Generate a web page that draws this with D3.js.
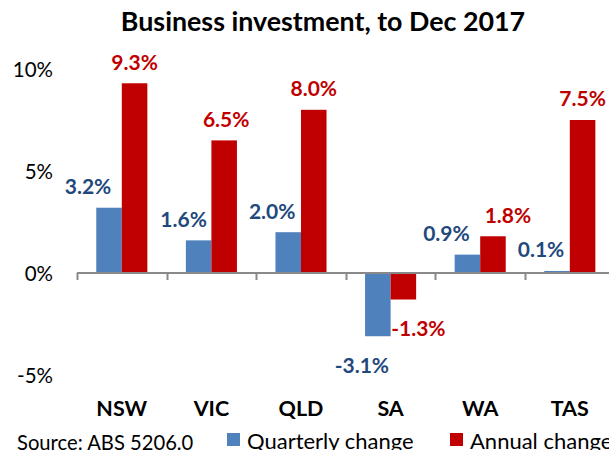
<!DOCTYPE html>
<html>
<head>
<meta charset="utf-8">
<script src="https://cdn.jsdelivr.net/npm/d3@7"></script>
<style>
  html, body { margin: 0; padding: 0; background: #fff; }
  svg { display: block; }
</style>
</head>
<body>
<svg id="chart" width="609" height="450"></svg>
<script>
const categories = ["NSW", "VIC", "QLD", "SA", "WA", "TAS"];
const quarterly = [3.2, 1.6, 2.0, -3.1, 0.9, 0.1];
const annual = [9.3, 6.5, 8.0, -1.3, 1.8, 7.5];
const seriesNames = ["Quarterly change", "Annual change"];
const yTicks = [10, 5, 0, -5];
const titleText = "Business investment, to Dec 2017";
const sourceText = "Source: ABS 5206.0";

// style: horizontal nudges of the data labels (px), per series and category
const labelNudge = {
  0: { NSW: -21, VIC: -15, QLD: -16, SA: -16, WA: -21, TAS: -16 },
  1: { NSW: 0, VIC: 2, QLD: 0, SA: 15, WA: 15, TAS: 0 }
};

const FONT = "Lato, 'Open Sans', sans-serif";
const barColors = ["#4F81BD", "#C00000"];
const labelColors = ["#1F497D", "#C00000"];

const svg = d3.select("#chart");

const x = d3.scaleBand().domain(categories).range([77, 614.6]).paddingInner(0.43).paddingOuter(0.215);
const x0 = d3.scaleBand().domain(categories).range([77, 614.6]);
const y = d3.scaleLinear().domain([-5, 10]).range([375, 69]);
const xs = d3.scaleBand().domain([0, 1]).range([0, x.bandwidth()]);

// title
svg.append("text").attr("x", 323).attr("y", 31).attr("text-anchor", "middle")
  .attr("font-family", FONT).attr("font-weight", "bold").attr("font-size", 26.8)
  .attr("fill", "#000").text(titleText);

// y tick labels (no axis line)
const yAxis = d3.axisLeft(y).tickValues(yTicks).tickSize(0).tickPadding(0).tickFormat(d => d + "%");
const yg = svg.append("g").attr("transform", "translate(53,0)").call(yAxis);
yg.select(".domain").remove();
yg.selectAll("text").attr("font-family", FONT).attr("font-size", 20.5).attr("fill", "#000").attr("dy", "0.35em");

const series = [quarterly, annual];

// bars
series.forEach((vals, si) => {
  svg.append("g").selectAll("rect").data(vals).join("rect")
    .attr("x", (d, i) => x(categories[i]) + xs(si))
    .attr("width", xs.bandwidth())
    .attr("y", d => y(Math.max(0, d)))
    .attr("height", d => Math.abs(y(d) - y(0)))
    .attr("fill", barColors[si]);
});

// x axis at zero with downward ticks at band boundaries
const axisG = svg.append("g");
axisG.append("line").attr("x1", x0.range()[0]).attr("x2", x0.range()[1])
  .attr("y1", y(0)).attr("y2", y(0)).attr("stroke", "#898989").attr("stroke-width", 2);
axisG.selectAll("line.tick").data(categories).join("line").attr("class", "tick")
  .attr("x1", d => Math.round(x0(d)) + 0.5).attr("x2", d => Math.round(x0(d)) + 0.5)
  .attr("y1", y(0)).attr("y2", y(0) + 7).attr("stroke", "#898989").attr("stroke-width", 2);

// category labels
svg.append("g").selectAll("text").data(categories).join("text")
  .attr("x", d => x0(d) + x0.bandwidth() / 2).attr("y", 408).attr("dy", "0.35em")
  .attr("text-anchor", "middle").attr("font-family", FONT).attr("font-weight", "bold")
  .attr("font-size", 21.5).attr("fill", "#000").text(d => d);

// data labels
function labelY(d) { return d >= 0 ? y(d) - 21 : y(d) + 29; }
series.forEach((vals, si) => {
  svg.append("g").selectAll("text").data(vals).join("text")
    .attr("x", (d, i) => x(categories[i]) + xs(si) + xs.bandwidth() / 2 + labelNudge[si][categories[i]])
    .attr("y", d => labelY(d)).attr("dy", "0.35em")
    .attr("text-anchor", "middle").attr("font-family", FONT).attr("font-weight", "bold")
    .attr("font-size", 21).attr("fill", labelColors[si]).text(d => d.toFixed(1) + "%");
});

// source
svg.append("text").attr("x", 17).attr("y", 443).attr("dy", "0.35em")
  .attr("font-family", FONT).attr("font-size", 20.2).attr("fill", "#000").text(sourceText);

// legend
const legX = [227, 450];
seriesNames.forEach((name, si) => {
  const g = svg.append("g").attr("transform", `translate(${legX[si]},0)`);
  g.append("rect").attr("x", 0).attr("y", 433).attr("width", 13).attr("height", 13).attr("fill", barColors[si]);
  g.append("text").attr("x", 20).attr("y", 441).attr("dy", "0.35em")
    .attr("font-family", FONT).attr("font-size", 22).attr("fill", "#000").text(name);
});
</script>
</body>
</html>
